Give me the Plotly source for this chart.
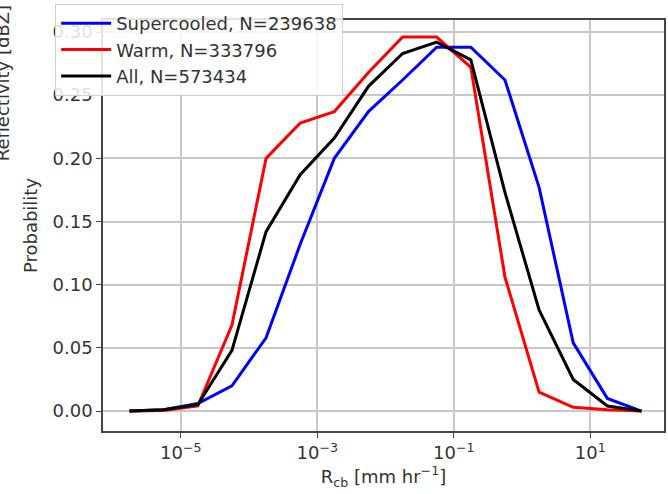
import numpy as np
import plotly.graph_objects as go

# bin centres (log10 of rain rate, mm/hr)
log_centres = [-5.75, -5.25, -4.75, -4.25, -3.75, -3.25, -2.75, -2.25,
               -1.75, -1.25, -0.75, -0.25, 0.25, 0.75, 1.25, 1.75]
rain_rate = [10 ** v for v in log_centres]

supercooled = [0.000, 0.001, 0.006, 0.020, 0.058, 0.132, 0.200, 0.237,
               0.262, 0.288, 0.288, 0.262, 0.177, 0.054, 0.010, 0.000]
warm = [0.000, 0.0005, 0.004, 0.068, 0.200, 0.228, 0.237, 0.268,
        0.296, 0.296, 0.272, 0.106, 0.015, 0.003, 0.001, 0.000]
all_clouds = [0.000, 0.001, 0.005, 0.048, 0.142, 0.187, 0.216, 0.257,
              0.283, 0.292, 0.278, 0.173, 0.080, 0.025, 0.004, 0.000]

series_names = ["Supercooled, N=239638", "Warm, N=333796", "All, N=573434"]
series_colors = ["blue", "red", "black"]

x_tickvals = [1e-5, 1e-3, 1e-1, 1e1]
x_ticktext = ["10<sup>\u22125</sup>", "10<sup>\u22123</sup>", "10<sup>\u22121</sup>", "10<sup>1</sup>"]

FONT = "DejaVu Sans"
TXT = "#333333"

fig = go.Figure()
for name, vals, col in zip(series_names, [supercooled, warm, all_clouds], series_colors):
    fig.add_trace(go.Scatter(x=rain_rate, y=vals, mode="lines", name=name,
                             line=dict(color=col, width=3)))

fig.update_layout(
    width=668, height=494,
    margin=dict(l=103, r=2, t=20, b=63),
    paper_bgcolor="white", plot_bgcolor="white",
    font=dict(family=FONT, size=18, color=TXT),
    showlegend=True,
    legend=dict(x=-0.0853, y=1.039, xanchor="left", yanchor="top",
                itemwidth=50,
                bgcolor="rgba(255,255,255,0.85)", bordercolor="#d0d0d0", borderwidth=1,
                font=dict(family=FONT, size=18, color=TXT)),
    xaxis=dict(type="log", range=[-6.139, 2.080],
               tickvals=x_tickvals, ticktext=x_ticktext,
               showgrid=True, gridcolor="#c8c8c8", gridwidth=1.5,
               showline=True, linecolor="#444444", linewidth=1.5, mirror=True,
               ticks="outside", ticklen=5, tickcolor="#444444",
               tickfont=dict(size=18, color=TXT), zeroline=False,
               title=dict(text="R<sub>cb</sub> [mm hr<sup>\u22121</sup>]",
                          font=dict(size=18, color=TXT), standoff=8)),
    yaxis=dict(range=[-0.0158, 0.3095], tickvals=[0, 0.05, 0.10, 0.15, 0.20, 0.25, 0.30],
               tickformat=".2f",
               showgrid=True, gridcolor="#c8c8c8", gridwidth=1.5,
               showline=True, linecolor="#444444", linewidth=1.5, mirror=True,
               ticks="outside", ticklen=5, tickcolor="#444444",
               tickfont=dict(size=18, color=TXT), zeroline=False,
               title=dict(text="Probability", font=dict(size=18, color=TXT), standoff=10)),
)

fig.add_annotation(text="Reflectivity [dBZ]", xref="paper", yref="paper",
                   x=-0.1776, y=0.847, xanchor="center", yanchor="middle",
                   textangle=-90, showarrow=False,
                   font=dict(family=FONT, size=18, color=TXT))

fig.write_html("out.html")
